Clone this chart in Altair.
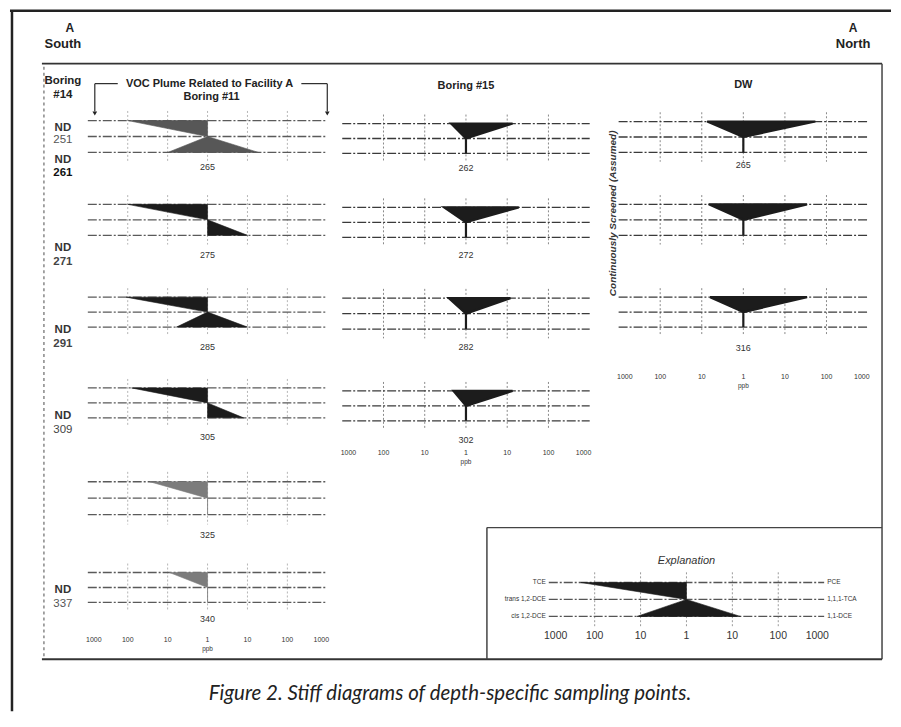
import math
import altair as alt
import pandas as pd

# ---------------- data (concentrations in ppb; 0 = not detected, drawn at 1 ppb) ----------------
PANEL_GROUP = ["Boring #11"] * 6 + ["Boring #15"] * 4 + ["DW"] * 3 + ["Explanation"]
PANEL_DEPTH = ["265", "275", "285", "305", "325", "340",
               "262", "272", "282", "302",
               "265", "", "316",
               ""]
TCE       = [100, 100, 110, 80, 28, 9,   2.3, 3.4, 2.6, 2.0,   7.4, 6.8, 6.3,   200]
TRANS_DCE = [0, 0, 0, 0, 0, 0,           0, 0, 0, 0,           0, 0, 0,         0]
CIS_DCE   = [10, 0, 6, 0, 0, 0,          0, 0, 0, 0,           0, 0, 0,         12]
PCE       = [0, 0, 0, 0, 0, 0,           13.5, 19, 12, 13.5,   54, 34, 34,      0]
TCA_111   = [0, 0, 0, 0, 0, 0,           0, 0, 0, 0,           0, 0, 0,         0]
DCE_11    = [19, 10, 10, 8, 0, 0,        0, 0, 0, 0,           0, 0, 0,         15]

LEFT_NAMES = ["TCE", "trans 1,2-DCE", "cis 1,2-DCE"]
RIGHT_NAMES = ["PCE", "1,1,1-TCA", "1,1-DCE"]
TICK_TEXT = ["1000", "100", "10", "1", "10", "100", "1000"]
TICK_DECADES = [-3, -2, -1, 0, 1, 2, 3]
GRID_DECADES = [-2, -1, 0, 1, 2]
B14_RESULT = ["ND", "ND", "ND", "ND", "ND", "ND"]
B14_DEPTHS = ["251", "261", "271", "291", "309", "337"]

# ---------------- layout (reference-image pixels) ----------------
OFF = 8
W, H = 884, 705
SANS = "Liberation Sans"
PANEL_X = {"Boring #11": (86, 326), "Boring #15": (341, 589),
           "DW": (618, 868), "Explanation": (548, 824)}
PANEL_Y = [(120, 152), (204, 235), (297, 327), (388, 418), (482, 515), (573, 603),
           (123, 153), (207, 237), (298, 329), (391, 421),
           (121, 152), (204, 235), (297, 327),
           (583, 617)]
LABEL_DY = [15, 20, 20, 19, 20, 17, 15, 18, 18, 19, 13, 18, 21, 0]
FILL = ["#575757", "#1c1c1c", "#1c1c1c", "#1c1c1c", "#7c7c7c", "#7c7c7c"] + ["#1c1c1c"] * 8
EDGE_W = [0.6] * 6 + [2.2] * 7 + [0.6]
GRID_C = {"Boring #11": "#b5b5b5", "Boring #15": "#8a8a8a", "DW": "#8a8a8a", "Explanation": "#9a9a9a"}
LINE_C = {"Boring #11": "#5a5a5a", "Boring #15": "#3a3a3a", "DW": "#3a3a3a", "Explanation": "#555555"}
AXIS_BELOW = {5: (38, 7, True), 9: (32, 7, True), 12: (50, 7, True), 13: (20, 10.5, False)}
B14_X = 61
B14_Y = [(127, 140), (160, 173), (248, 262), (330, 344), (416, 430), (591, 605)]
B14_NUM_STYLE = [("normal", "#555"), ("bold", "#111"), ("bold", "#444"),
                 ("bold", "#444"), ("normal", "#444"), ("normal", "#555")]

ONE = pd.DataFrame({"k": [0]})


def lg(v):
    return math.log10(v) if v > 1 else 0.0


def rule(x1, y1, x2, y2, w=1.5, color="#2a2a2a", dash=None):
    kw = dict(strokeWidth=w, color=color)
    if dash:
        kw["strokeDash"] = dash
    return alt.Chart(ONE).mark_rule(**kw).encode(
        x=alt.value(x1 - OFF), y=alt.value(y1 - OFF),
        x2=alt.value(x2 - OFF), y2=alt.value(y2 - OFF))


def label(text, x, y, size=11, weight="bold", style="normal", color="#222",
          align="center", angle=0, font=SANS):
    kw = dict(text=text, fontSize=size, fontWeight=weight, fontStyle=style,
              color=color, align=align, baseline="middle", font=font)
    if angle:
        kw["angle"] = angle
    return alt.Chart(ONE).mark_text(**kw).encode(
        x=alt.value(x - OFF), y=alt.value(y - OFF))


def arrow(x, y):
    return alt.Chart(ONE).mark_point(shape="triangle-down", filled=True, size=22,
                                     color="#222", opacity=1).encode(
        x=alt.value(x - OFF), y=alt.value(y - OFF))


def panel(i):
    g = PANEL_GROUP[i]
    x0, x1 = PANEL_X[g]
    y0, y1 = PANEL_Y[i]
    sx = alt.Scale(domain=[-3, 3], range=[x0 - OFF, x1 - OFF])
    sy = alt.Scale(domain=[0, 2], range=[y0 - OFF, y1 - OFF])

    def X(f):
        return alt.X(f, type="quantitative", scale=sx, axis=None)

    def Y(f):
        return alt.Y(f, type="quantitative", scale=sy, axis=None)

    shape = pd.DataFrame({
        "row": [0, 1, 2],
        "left": [-lg(TCE[i]), -lg(TRANS_DCE[i]), -lg(CIS_DCE[i])],
        "right": [lg(PCE[i]), lg(TCA_111[i]), lg(DCE_11[i])],
        "lo": [-3, -3, -3], "hi": [3, 3, 3],
    })
    grid_df = pd.DataFrame({"g": GRID_DECADES, "top": -0.6, "bot": 2.6})
    parts = [
        alt.Chart(grid_df).mark_rule(color=GRID_C[g], strokeWidth=1, strokeDash=[2, 2]).encode(
            x=X("g"), y=Y("top"), y2="bot"),
        alt.Chart(shape).mark_rule(color=LINE_C[g], strokeWidth=1.3, strokeDash=[9, 2, 2, 2]).encode(
            x=X("lo"), x2="hi", y=Y("row")),
        alt.Chart(shape).mark_area(orient="horizontal", color=FILL[i], stroke=FILL[i],
                                   strokeWidth=EDGE_W[i], opacity=1).encode(
            x=X("left"), x2="right", y=Y("row")),
    ]
    if PANEL_DEPTH[i]:
        ldf = pd.DataFrame({"t": [PANEL_DEPTH[i]], "x": [0], "y": [2]})
        parts.append(alt.Chart(ldf).mark_text(dy=LABEL_DY[i], fontSize=9, font=SANS,
                                               color="#333", baseline="middle").encode(
            x=X("x"), y=Y("y"), text="t:N"))
    if i in AXIS_BELOW:
        dy, fs, ppb = AXIS_BELOW[i]
        tdf = pd.DataFrame({"t": TICK_TEXT,
                            "d": [max(-2.85, min(2.85, d)) for d in TICK_DECADES],
                            "y": 2})
        parts.append(alt.Chart(tdf).mark_text(dy=dy, fontSize=fs, font=SANS, color="#333",
                                               baseline="middle").encode(
            x=X("d"), y=Y("y"), text="t:N"))
        if ppb:
            pdf = pd.DataFrame({"t": ["ppb"], "d": [0], "y": [2]})
            parts.append(alt.Chart(pdf).mark_text(dy=dy + 9, fontSize=6.5, font=SANS,
                                                   color="#333", baseline="middle").encode(
                x=X("d"), y=Y("y"), text="t:N"))
    if g == "Explanation":
        left_df = pd.DataFrame({"t": LEFT_NAMES, "row": [0, 1, 2], "x": -3})
        right_df = pd.DataFrame({"t": RIGHT_NAMES, "row": [0, 1, 2], "x": 3})
        parts.append(alt.Chart(left_df).mark_text(align="right", dx=-3, fontSize=6.5, font=SANS,
                                                   color="#333", baseline="middle").encode(
            x=X("x"), y=Y("row"), text="t:N"))
        parts.append(alt.Chart(right_df).mark_text(align="left", dx=3, fontSize=6.5, font=SANS,
                                                    color="#333", baseline="middle").encode(
            x=X("x"), y=Y("row"), text="t:N"))
    return alt.layer(*parts)


layers = []
# frames
layers += [
    rule(8, 10, OFF + W - 1, 10, w=2.5, color="#222"),
    rule(10, 10, 10, OFF + H - 1, w=2.5, color="#222"),
    rule(40, 63, 882, 63, w=1.8, color="#333"),
    rule(882, 63, 882, 660, w=1.5, color="#444"),
    rule(40, 660, 882, 660, w=2, color="#333"),
    rule(42, 66, 42, 660, w=1.5, color="#888", dash=[3, 3]),
    rule(486, 528, 882, 528, w=1.5, color="#444"),
    rule(486, 528, 486, 660, w=1.5, color="#444"),
]
# headers
layers += [
    label("A", 68, 27, size=12), label("South", 61, 43, size=13),
    label("A", 853, 27, size=12), label("North", 853, 43, size=13),
    label("Boring", B14_X, 80, size=11.5), label("#14", B14_X, 94, size=11.5),
    label("VOC Plume Related to Facility A", 208, 83, size=11),
    label("Boring #11", 210, 96, size=11),
    label("Boring #15", 465, 85, size=11),
    label("DW", 743, 84, size=11),
    label("Continuously Screened (Assumed)", 612, 213, size=10, style="italic",
          color="#333", angle=270),
    label("Explanation", 686, 561, size=11, weight="normal", style="italic", color="#333"),
    rule(93, 83, 116, 83, w=1.2), rule(300, 83, 326, 83, w=1.2),
    rule(93, 83, 93, 111, w=1.2), rule(326, 83, 326, 111, w=1.2),
    arrow(93, 113), arrow(326, 113),
    label("Figure 2.  Stiff diagrams of depth-specific sampling points.", 449, 695,
          size=20.5, weight="normal", style="italic", color="#222", font="Lato"),
]
# boring 14 (all not detected)
for (yn, yd), res, dep, (w, c) in zip(B14_Y, B14_RESULT, B14_DEPTHS, B14_NUM_STYLE):
    layers.append(label(res, B14_X, yn, size=11.5, color="#333"))
    layers.append(label(dep, B14_X, yd, size=11.5, weight=w, color=c))
# stiff diagrams
for i in range(len(PANEL_GROUP)):
    layers.append(panel(i))

chart = (
    alt.layer(*layers)
    .resolve_scale(x="independent", y="independent")
    .properties(width=W, height=H, padding=0, background="white")
    .configure_view(stroke=None)
)
chart.save("out.html", embed_options={"renderer": "svg", "actions": False})
